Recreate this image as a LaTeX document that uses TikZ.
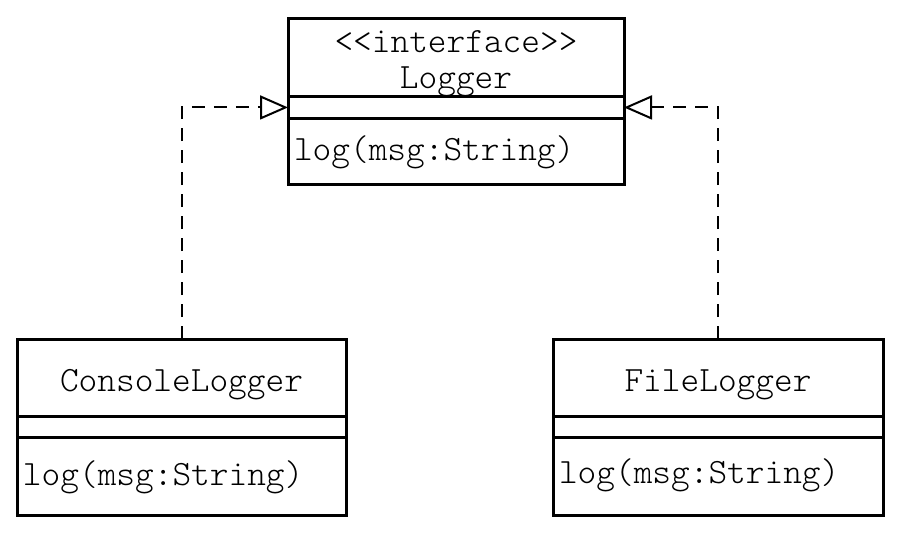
\documentclass[tikz,border=0pt]{standalone}
\usepackage{fontspec}
\setmonofont{Latin Modern Mono Light}
\usetikzlibrary{positioning,arrows.meta}

\begin{document}
\begin{tikzpicture}[x=0.5pt,y=-0.5pt,
    every node/.style={font=\ttfamily\fontsize{17.8}{18}\selectfont},
    compart/.style={rectangle,draw,line width=1.5pt,inner sep=0pt,outer sep=0pt},
    head/.style 2 args={compart,align=center,
      execute at begin node={\rule{0pt}{#1}},execute at end node={\rule[-#2]{0pt}{#2}}},
    meth/.style 2 args={compart,align=left,inner xsep=3pt,
      execute at begin node={\rule{0pt}{#1}},execute at end node={\rule[-#2]{0pt}{#2}}},
    realize/.style={dash pattern=on 6.5pt off 4.5pt,line width=1pt,
      -{Triangle[open,length=14pt,width=12pt]}}]
  \useasboundingbox (0,0) rectangle (906,532);

  \node[head={35pt}{4pt},minimum width=168pt,anchor=north west] (logger) at (288,18) {<<interface>>\\Logger};
  \node[compart,minimum width=168pt,minimum height=11pt,below=0pt of logger] (loggerattr) {};
  \node[meth={21pt}{12pt},text width=162pt,below=0pt of loggerattr] (loggerops) {log(msg:String)};

  \node[head={26pt}{12.5pt},minimum width=164.5pt,anchor=north west] (console) at (17,339) {ConsoleLogger};
  \node[compart,minimum width=164.5pt,minimum height=10.5pt,below=0pt of console] (consoleattr) {};
  \node[meth={24pt}{15pt},text width=158.5pt,below=0pt of consoleattr] (consoleops) {log(msg:String)};

  \node[head={26pt}{12.5pt},minimum width=165pt,anchor=north west] (file) at (553,339) {FileLogger};
  \node[compart,minimum width=165pt,minimum height=10.5pt,below=0pt of file] (fileattr) {};
  \node[meth={23pt}{16pt},text width=159pt,below=0pt of fileattr] (fileops) {log(msg:String)};

  \draw[realize] (console) |- (loggerattr.west);
  \draw[realize] (file) |- (loggerattr.east);
\end{tikzpicture}
\end{document}
